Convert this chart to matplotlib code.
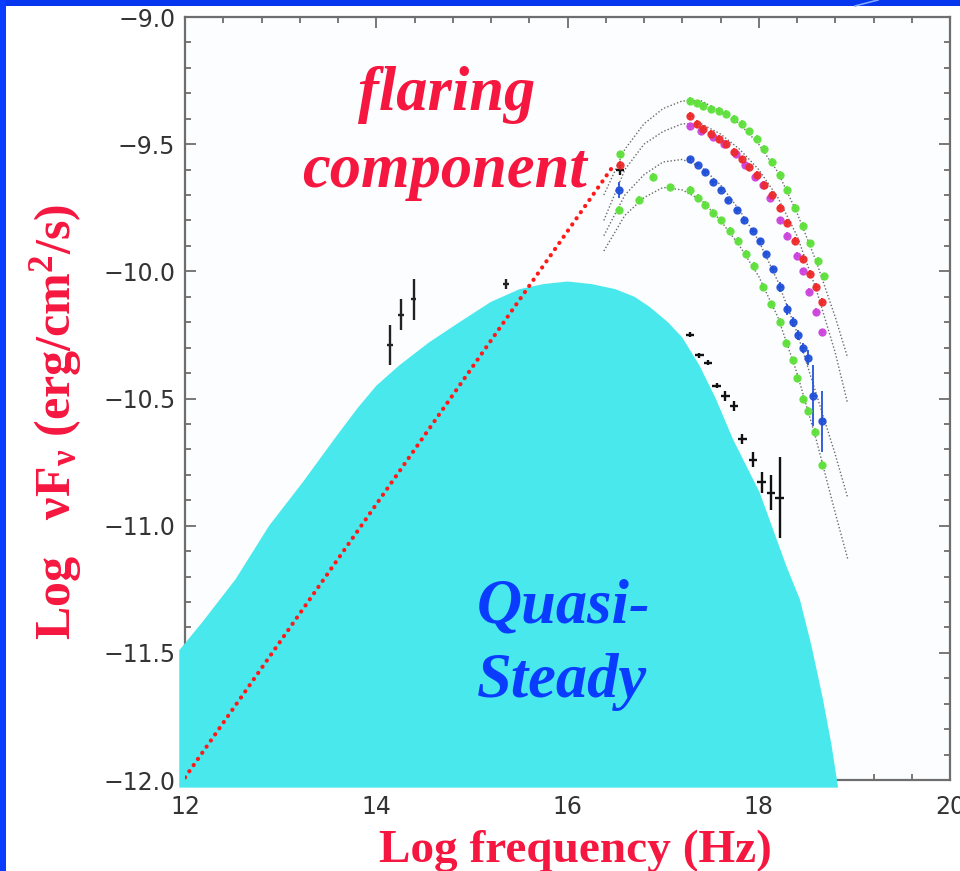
import numpy as np
import matplotlib
matplotlib.use("Agg")
import matplotlib.pyplot as plt
from matplotlib.patches import Polygon, Rectangle
from matplotlib.lines import Line2D

plt.rcParams['mathtext.fontset'] = 'custom'
plt.rcParams['mathtext.rm'] = 'Liberation Serif:bold'
plt.rcParams['mathtext.it'] = 'Liberation Serif:bold'
plt.rcParams['mathtext.bf'] = 'Liberation Serif:bold'

# ---------------- data ----------------
# quasi-steady envelope (outline of cyan region)
steady_x = [11.94, 11.94, 12.18, 12.53, 12.88, 13.23, 13.58, 13.80, 14.00, 14.24, 14.55, 14.87,
            15.20, 15.50, 15.75, 16.00, 16.25, 16.50, 16.70, 16.86, 17.05, 17.20, 17.38,
            17.55, 17.73, 18.01, 18.29, 18.43, 18.55, 18.67, 18.76, 18.83]
steady_y = [-12.03, -11.49, -11.38, -11.21, -11.00, -10.83, -10.65, -10.54, -10.45, -10.37, -10.28, -10.20,
            -10.12, -10.07, -10.05, -10.04, -10.05, -10.07, -10.10, -10.14, -10.20, -10.26, -10.37,
            -10.50, -10.66, -10.87, -11.16, -11.29, -11.47, -11.68, -11.86, -12.03]

# flaring component line
flare_x = [12.0, 16.47]
flare_y = [-11.99, -9.59]

# model curves (gray dotted)
model_x = [16.38, 16.6, 16.8, 17.0, 17.2, 17.4, 17.6, 17.8, 18.0, 18.2, 18.4, 18.6, 18.8, 18.93]
model_a = [-9.70, -9.52, -9.42, -9.36, -9.33, -9.33, -9.37, -9.42, -9.50, -9.61, -9.77, -9.96, -10.18, -10.34]
model_b = [-9.80, -9.60, -9.50, -9.45, -9.42, -9.42, -9.46, -9.52, -9.60, -9.71, -9.86, -10.07, -10.32, -10.52]
model_c = [-9.86, -9.70, -9.62, -9.57, -9.56, -9.59, -9.66, -9.76, -9.88, -10.04, -10.24, -10.48, -10.72, -10.89]
model_d = [-9.92, -9.78, -9.71, -9.67, -9.68, -9.72, -9.80, -9.90, -10.02, -10.18, -10.40, -10.66, -10.95, -11.13]

# X-ray spectra
green1_x = [16.55, 17.28, 17.35, 17.42, 17.50, 17.58, 17.66, 17.74, 17.82, 17.90, 17.98,
            18.06, 18.14, 18.22, 18.30, 18.38, 18.46, 18.54, 18.62, 18.68]
green1_y = [-9.54, -9.33, -9.34, -9.35, -9.36, -9.37, -9.38, -9.40, -9.42, -9.45, -9.48,
            -9.52, -9.57, -9.62, -9.68, -9.75, -9.82, -9.89, -9.96, -10.02]

red_x = [16.55, 17.28, 17.35, 17.42, 17.50, 17.58, 17.66, 17.74, 17.82, 17.90, 17.98,
         18.06, 18.14, 18.22, 18.30, 18.38, 18.46, 18.54, 18.60, 18.66]
red_y = [-9.58, -9.39, -9.42, -9.44, -9.46, -9.48, -9.50, -9.53, -9.56, -9.59, -9.62,
         -9.66, -9.70, -9.75, -9.81, -9.88, -9.95, -10.01, -10.06, -10.12]

magenta_x = [17.28, 17.40, 17.52, 17.64, 17.76, 17.86, 17.96, 18.04, 18.12, 18.22, 18.30,
             18.40, 18.46, 18.53, 18.60, 18.66]
magenta_y = [-9.43, -9.45, -9.47, -9.50, -9.54, -9.58, -9.63, -9.66, -9.71, -9.80, -9.86,
             -9.94, -10.00, -10.08, -10.16, -10.24]

blue_x = [16.54, 17.28, 17.36, 17.44, 17.52, 17.60, 17.68, 17.77, 17.85, 17.94, 18.01,
          18.08, 18.15, 18.22, 18.30, 18.36, 18.41, 18.46, 18.51, 18.57, 18.66]
blue_y = [-9.68, -9.56, -9.58, -9.61, -9.65, -9.68, -9.72, -9.76, -9.80, -9.84, -9.88,
          -9.93, -9.99, -10.06, -10.15, -10.20, -10.25, -10.30, -10.34, -10.49, -10.59]
blue_err = [0.03, 0.01, 0.01, 0.01, 0.01, 0.01, 0.01, 0.01, 0.01, 0.01, 0.01,
            0.01, 0.01, 0.02, 0.02, 0.02, 0.02, 0.02, 0.03, 0.12, 0.12]

green2_x = [16.54, 16.75, 16.89, 17.07, 17.28, 17.36, 17.44, 17.52, 17.60, 17.70, 17.78,
            17.87, 17.95, 18.04, 18.13, 18.22, 18.29, 18.36, 18.40, 18.46, 18.51, 18.59, 18.66]
green2_y = [-9.76, -9.72, -9.63, -9.67, -9.68, -9.71, -9.74, -9.77, -9.80, -9.84, -9.88,
            -9.93, -9.98, -10.06, -10.13, -10.20, -10.28, -10.35, -10.42, -10.50, -10.55, -10.63, -10.76]

# optical / UV (black, low frequency)
opt_x = [14.14, 14.26, 14.39, 15.36]
opt_y = [-10.29, -10.17, -10.11, -10.05]
opt_err = [0.08, 0.06, 0.08, 0.02]

# quiescent X-ray (black crosses)
qx_x = [16.55, 17.28, 17.38, 17.47, 17.56, 17.65, 17.74, 17.83, 17.94, 18.03, 18.13, 18.22]
qx_y = [-9.60, -10.25, -10.33, -10.36, -10.45, -10.49, -10.53, -10.66, -10.74, -10.83, -10.87, -10.89]
qx_err = [0.02, 0.01, 0.01, 0.01, 0.01, 0.02, 0.02, 0.02, 0.03, 0.04, 0.07, 0.16]

xticks = [12, 14, 16, 18, 20]
yticks = [-12.0, -11.5, -11.0, -10.5, -10.0, -9.5, -9.0]

# ---------------- figure ----------------
W, H = 960, 871
fig = plt.figure(figsize=(W / 100, H / 100), dpi=100)
fig.patch.set_facecolor('white')

ax_l, ax_r, ax_t, ax_b = 185, 950, 17, 780
ax = fig.add_axes([ax_l / W, (H - ax_b) / H, (ax_r - ax_l) / W, (ax_b - ax_t) / H])
ax.set_facecolor('#fcfdfe')
x0, x1, y0, y1 = 12.0, 20.0, -12.0, -9.0

spine_c = '#6e6e6e'
for s in ax.spines.values():
    s.set_color(spine_c)
    s.set_linewidth(1.6)

ax.set_xticks(xticks)
ax.set_xticklabels([f"{v:d}" for v in xticks])
ax.set_yticks(yticks)
ax.set_yticklabels([f"\u2212{abs(v):.1f}" for v in yticks])
ax.set_xticks(np.arange(12.0, 20.01, 0.4), minor=True)
ax.set_yticks(np.arange(-12.0, -8.99, 0.1), minor=True)
ax.tick_params(which='both', direction='in', top=True, right=True, color=spine_c, width=1.3)
ax.tick_params(which='major', length=8)
ax.tick_params(which='minor', length=4)
ax.tick_params(axis='x', which='major', pad=11, labelsize=17, labelcolor='#333333')
ax.tick_params(axis='y', which='major', pad=7, labelsize=17, labelcolor='#333333')

# cyan quasi-steady region
poly = Polygon(np.column_stack([steady_x, steady_y]), closed=True,
               facecolor='#48e8ec', edgecolor='none', zorder=3, clip_on=False)
ax.add_patch(poly)

# model curves
for my in (model_a, model_b, model_c, model_d):
    ax.plot(model_x, my, color='#6a6a6a', lw=1.0, ls=(0, (1, 1.5)), zorder=2)

# spectra
def spectrum(x, y, c, err=None, ms=5):
    if err is None:
        err = [0.015] * len(x)
    ax.errorbar(x, y, yerr=err, xerr=0.03, fmt='o', ms=ms, color=c, mec=c,
                elinewidth=1.4, capsize=0, zorder=4, alpha=0.9)

spectrum(green1_x, green1_y, '#5fe03c')
spectrum(green2_x, green2_y, '#5fe03c')
spectrum(magenta_x, magenta_y, '#cc44dd')
spectrum(red_x, red_y, '#ee2a2a')
spectrum(blue_x, blue_y, '#2050d8', err=blue_err)

ax.errorbar(opt_x, opt_y, yerr=opt_err, xerr=0.03, fmt='none', ecolor='#222222',
            elinewidth=1.7, capsize=0, zorder=4)
ax.errorbar(qx_x, qx_y, yerr=qx_err, xerr=0.045, fmt='none', ecolor='#111111',
            elinewidth=1.7, capsize=0, zorder=4)

# flaring component dotted line
ax.plot(flare_x, flare_y, color='#ff1a1a', lw=3.0, ls=(0, (0.05, 1.75)),
        dash_capstyle='round', zorder=6)

ax.set_xlim(x0, x1)
ax.set_ylim(y0, y1)

# ---------------- texts ----------------
red_txt = '#f5173f'
blue_txt = '#0a3cff'
serif = 'Liberation Serif'
fig.text(447 / W, 1 - 110 / H, 'flaring', ha='center', va='baseline', fontsize=45,
         family=serif, weight='bold', style='italic', color=red_txt)
fig.text(444 / W, 1 - 187 / H, 'component', ha='center', va='baseline', fontsize=45,
         family=serif, weight='bold', style='italic', color=red_txt)
fig.text(564 / W, 1 - 622 / H, 'Quasi-', ha='center', va='baseline', fontsize=45,
         family=serif, weight='bold', style='italic', color=blue_txt, zorder=10)
fig.text(562 / W, 1 - 697 / H, 'Steady', ha='center', va='baseline', fontsize=45,
         family=serif, weight='bold', style='italic', color=blue_txt, zorder=10)

fig.text(575 / W, 1 - 862 / H, 'Log frequency (Hz)', ha='center', va='baseline',
         fontsize=34, family=serif, weight='bold', color=red_txt)
fig.text(70 / W, 1 - 422 / H, 'Log   \u03bdF$_{\\nu}$ (erg/cm$^{2}$/s)', ha='center',
         va='baseline', rotation=90, rotation_mode='anchor', fontsize=36,
         family=serif, weight='bold', color=red_txt)

# blue slide frame
fig.patches.append(Rectangle((0, 1 - 6 / H), 1, 6 / H, transform=fig.transFigure,
                             facecolor='#0636ee', edgecolor='none', zorder=20))
fig.patches.append(Rectangle((0, 0), 6 / W, 1, transform=fig.transFigure,
                             facecolor='#0a3cff', edgecolor='none', zorder=20))
fig.lines.append(Line2D([855 / W, 878 / W], [1 - 6 / H, 1.0], transform=fig.transFigure,
                        color='#7fa8ff', lw=1.2, zorder=21))

fig.savefig('out.png', dpi=100, facecolor='white')
